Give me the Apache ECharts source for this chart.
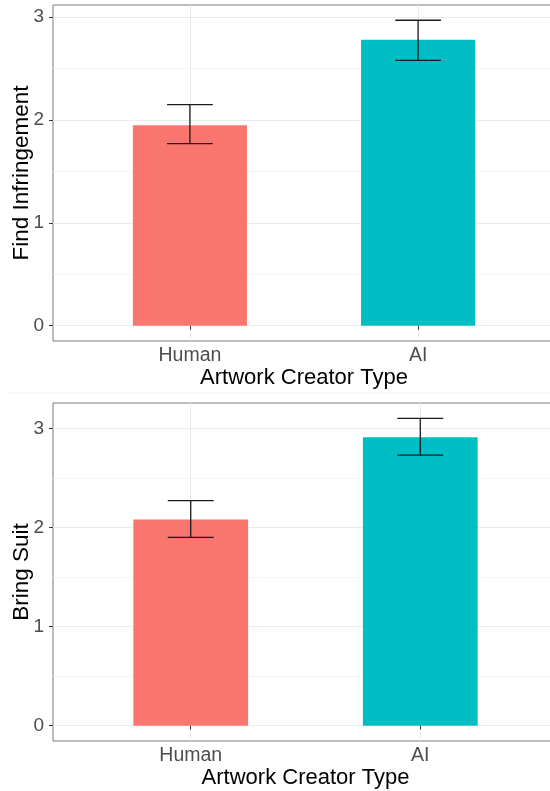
<!DOCTYPE html>
<html>
<head>
<meta charset="utf-8">
<script src="https://cdn.jsdelivr.net/npm/echarts@6/dist/echarts.min.js"></script>
<style>
	html, body { margin: 0; padding: 0; background: #fff; }
	#chart { width: 550px; height: 791px; }
</style>
</head>
<body>
<div id="chart"></div>
<script>
// 数据
const categories = ['Human', 'AI'];
const infringeMean = [1.95, 2.78];
const infringeLow = [1.77, 2.58];
const infringeHigh = [2.15, 2.97];
const suitMean = [2.08, 2.91];
const suitLow = [1.90, 2.73];
const suitHigh = [2.27, 3.10];
const yTicks = [0, 1, 2, 3];
const yMinorTicks = [0.5, 1.5, 2.5];
const barColors = ['#F8766D', '#00BFC4'];

const FONT = 'Liberation Sans, Arial, Helvetica, sans-serif';
const chart = echarts.init(document.getElementById('chart'));

// ggplot 风格的 5% 扩展
function yRange(high) {
	let top = Math.max(...high);
	let pad = top * 0.05;
	return [-pad, top + pad];
}

function renderBar(params, api) {
	let x = api.value(0), y = api.value(1);
	let p1 = api.coord([x - 0.25, y]);
	let p2 = api.coord([x + 0.25, 0]);
	return {
		type: 'rect',
		shape: { x: p1[0], y: p1[1], width: p2[0] - p1[0], height: p2[1] - p1[1] },
		style: { fill: barColors[params.dataIndex] },
	};
}

function renderErr(params, api) {
	let x = api.value(0), lo = api.value(1), hi = api.value(2);
	let a = api.coord([x, hi]);
	let b = api.coord([x, lo]);
	let l = api.coord([x - 0.1, hi])[0];
	let r = api.coord([x + 0.1, hi])[0];
	let style = { stroke: '#1a1a1a', lineWidth: 1.3 };
	return {
		type: 'group',
		children: [
			{ type: 'line', shape: { x1: a[0], y1: a[1], x2: b[0], y2: b[1] }, style: style },
			{ type: 'line', shape: { x1: l, y1: a[1], x2: r, y2: a[1] }, style: style },
			{ type: 'line', shape: { x1: l, y1: b[1], x2: r, y2: b[1] }, style: style },
		],
	};
}

function xAxisFor(gridIndex) {
	return {
		type: 'value',
		gridIndex: gridIndex,
		min: 0.4,
		max: 2.6,
		name: 'Artwork Creator Type',
		nameLocation: 'middle',
		nameGap: 25,
		nameTextStyle: { color: '#000', fontSize: 22, fontFamily: FONT },
		axisLine: { show: false },
		axisTick: { show: true, inside: false, length: 4, customValues: [1, 2], lineStyle: { color: '#333' } },
		axisLabel: {
			customValues: [1, 2],
			formatter: (v) => categories[v - 1] || '',
			color: '#4d4d4d',
			fontSize: 19.5,
			fontFamily: FONT,
			margin: 5,
		},
		splitLine: { show: true, lineStyle: { color: '#ebebeb', width: 1 } },
	};
}

function yAxisFor(gridIndex, title, range) {
	return [
		{
			type: 'value',
			gridIndex: gridIndex,
			min: range[0],
			max: range[1],
			name: title,
			nameLocation: 'middle',
			nameGap: 20,
			nameMoveOverlap: false,
			nameTextStyle: { color: '#000', fontSize: 22.5, fontFamily: FONT },
			axisLine: { show: false },
			axisTick: { show: true, inside: false, length: 4, customValues: yTicks, lineStyle: { color: '#333' } },
			axisLabel: {
				customValues: yTicks,
				color: '#4d4d4d',
				fontSize: 19,
				fontFamily: FONT,
				margin: 9,
			},
			splitLine: { show: true, lineStyle: { color: '#ebebeb', width: 1 } },
		},
		{
			// 次网格线
			type: 'value',
			gridIndex: gridIndex,
			min: range[0],
			max: range[1],
			axisLine: { show: false },
			axisTick: { show: false, customValues: yMinorTicks },
			axisLabel: { show: false, customValues: yMinorTicks },
			splitLine: { show: true, lineStyle: { color: '#f5f5f5', width: 1 } },
		},
	];
}

const range1 = yRange(infringeHigh);
const range2 = yRange(suitHigh);

const option = {
	backgroundColor: '#fff',
	animation: false,
	grid: [
		{ left: 53, top: 5, right: -5, height: 336, show: true, borderColor: '#7a7a7a', borderWidth: 1, backgroundColor: 'transparent', containLabel: false, outerBoundsMode: 'none' },
		{ left: 53, top: 403, right: -8, height: 338, show: true, borderColor: '#7a7a7a', borderWidth: 1, backgroundColor: 'transparent', containLabel: false, outerBoundsMode: 'none' },
	],
	xAxis: [xAxisFor(0), xAxisFor(1)],
	yAxis: yAxisFor(0, 'Find Infringement', range1).concat(yAxisFor(1, 'Bring Suit', range2)),
	graphic: [
		{ type: 'line', shape: { x1: 7, y1: 393, x2: 550, y2: 393 }, style: { stroke: '#f0f0f0', lineWidth: 1 } },
	],
	series: [
		{
			type: 'custom',
			xAxisIndex: 0,
			yAxisIndex: 0,
			renderItem: renderBar,
			data: categories.map((c, i) => [i + 1, infringeMean[i]]),
			z: 2,
		},
		{
			type: 'custom',
			xAxisIndex: 0,
			yAxisIndex: 0,
			renderItem: renderErr,
			data: categories.map((c, i) => [i + 1, infringeLow[i], infringeHigh[i]]),
			z: 3,
		},
		{
			type: 'custom',
			xAxisIndex: 1,
			yAxisIndex: 2,
			renderItem: renderBar,
			data: categories.map((c, i) => [i + 1, suitMean[i]]),
			z: 2,
		},
		{
			type: 'custom',
			xAxisIndex: 1,
			yAxisIndex: 2,
			renderItem: renderErr,
			data: categories.map((c, i) => [i + 1, suitLow[i], suitHigh[i]]),
			z: 3,
		},
	],
};

chart.setOption(option);
</script>
</body>
</html>
